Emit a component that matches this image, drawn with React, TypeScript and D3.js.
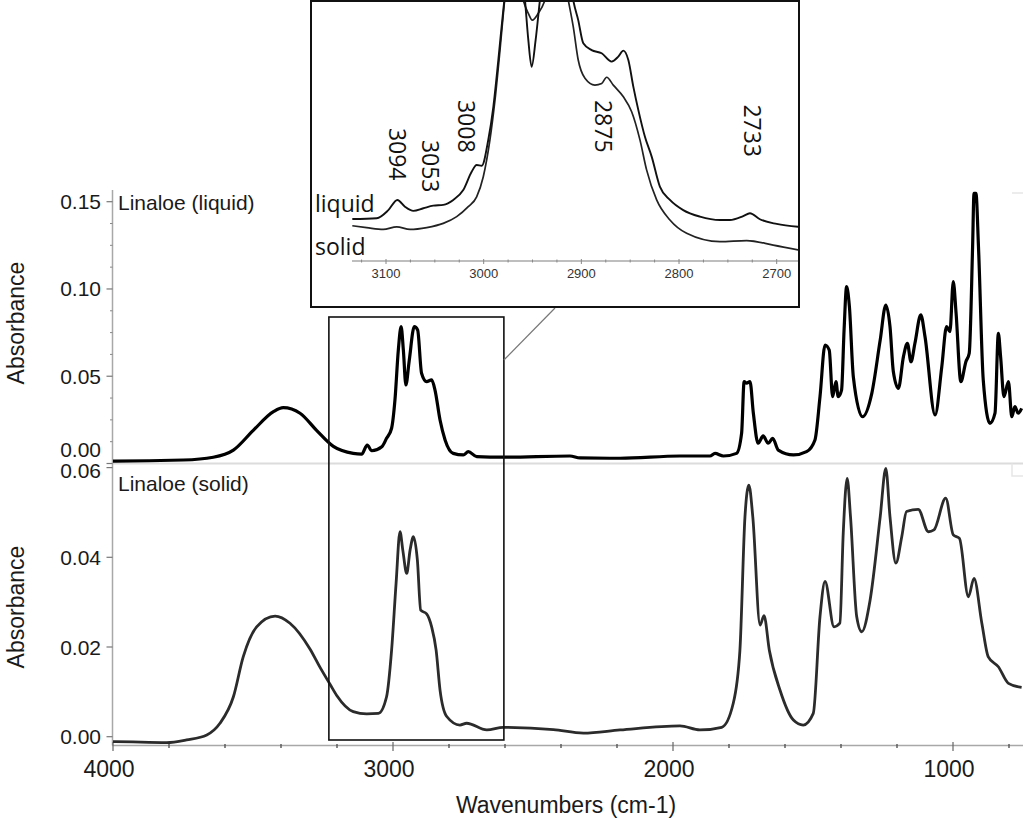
import React from "react";
import * as d3 from "d3";

const W = 1024;
const H = 818;

// ---------- data: main spectra [wavenumber, absorbance] ----------
const liquidSpectrum: [number, number][] = [
  [4000, 0.0014], [3993, 0.0014], [3749, 0.002], [3642, 0.0036], [3570, 0.0077], [3499, 0.019],
  [3427, 0.0297], [3392, 0.032], [3332, 0.0288], [3273, 0.019], [3213, 0.0098], [3142, 0.0058],
  [3112, 0.0054], [3092, 0.0106], [3076, 0.0073], [3040, 0.0096], [3023, 0.0144], [3005, 0.0202],
  [2993, 0.0364], [2981, 0.065], [2971, 0.0784], [2963, 0.065], [2954, 0.045], [2942, 0.059],
  [2924, 0.0784], [2912, 0.0765], [2898, 0.0517], [2880, 0.0469], [2862, 0.0479], [2850, 0.0421],
  [2832, 0.0249], [2814, 0.0135], [2785, 0.0058], [2749, 0.0049], [2731, 0.0068], [2701, 0.0039],
  [2606, 0.0036], [2368, 0.0043], [2332, 0.0032], [2189, 0.003], [1975, 0.0043], [1868, 0.0043],
  [1850, 0.0058], [1820, 0.0043], [1773, 0.0058], [1755, 0.0173], [1746, 0.0469], [1737, 0.046],
  [1725, 0.0469], [1713, 0.0288], [1696, 0.0116], [1678, 0.0158], [1660, 0.0116], [1644, 0.0144],
  [1624, 0.0077], [1570, 0.0049], [1523, 0.0068], [1493, 0.0135], [1475, 0.0383], [1457, 0.0679],
  [1442, 0.065], [1430, 0.0383], [1418, 0.0469], [1410, 0.0383], [1398, 0.0421], [1389, 0.0765],
  [1380, 0.1013], [1370, 0.0899], [1356, 0.0497], [1323, 0.0268], [1290, 0.0402], [1260, 0.0707],
  [1240, 0.0908], [1225, 0.0784], [1213, 0.0526], [1195, 0.0431], [1177, 0.0612], [1163, 0.0689],
  [1150, 0.0583], [1136, 0.0689], [1115, 0.0851], [1100, 0.0727], [1064, 0.0278], [1040, 0.0555],
  [1023, 0.0784], [1011, 0.0755], [999, 0.1042], [989, 0.0861], [972, 0.0469], [954, 0.0583],
  [942, 0.0632], [930, 0.1242], [925, 0.1548], [918, 0.1548], [909, 0.1242], [892, 0.0479],
  [868, 0.023], [850, 0.0288], [838, 0.0745], [830, 0.0612], [818, 0.0383], [802, 0.0469],
  [790, 0.0268], [779, 0.0326], [767, 0.0288], [755, 0.0316],
];

const solidSpectrum: [number, number][] = [
  [4000, -0.0011], [3993, -0.0011], [3808, -0.0013], [3737, -0.0007], [3665, 0.0004], [3618, 0.003],
  [3570, 0.0089], [3535, 0.0178], [3487, 0.0245], [3421, 0.0269], [3368, 0.0253], [3296, 0.0195],
  [3261, 0.0155], [3225, 0.0117], [3201, 0.0092], [3142, 0.0056], [3094, 0.0051], [3052, 0.0052],
  [3023, 0.0089], [3005, 0.0193], [2989, 0.0342], [2975, 0.0457], [2965, 0.0416], [2951, 0.0364],
  [2939, 0.0416], [2927, 0.0446], [2913, 0.0394], [2901, 0.0282], [2880, 0.0274], [2862, 0.0245],
  [2846, 0.0193], [2832, 0.0104], [2808, 0.0045], [2761, 0.0026], [2737, 0.003], [2665, 0.0015],
  [2606, 0.0021], [2427, 0.0016], [2320, 0.0008], [2189, 0.0015], [1975, 0.0024], [1904, 0.0015],
  [1826, 0.0021], [1785, 0.0074], [1761, 0.0193], [1743, 0.049], [1729, 0.0561], [1715, 0.049],
  [1689, 0.0249], [1675, 0.027], [1656, 0.0193], [1618, 0.0104], [1570, 0.0037], [1535, 0.0026],
  [1499, 0.0052], [1475, 0.0268], [1457, 0.0346], [1425, 0.0245], [1404, 0.0253], [1392, 0.0454],
  [1378, 0.0576], [1366, 0.049], [1344, 0.0268], [1326, 0.0234], [1296, 0.0305], [1260, 0.049],
  [1240, 0.0598], [1225, 0.049], [1204, 0.0387], [1183, 0.0446], [1166, 0.0502], [1124, 0.0507],
  [1088, 0.0457], [1068, 0.0461], [1026, 0.0532], [999, 0.045], [977, 0.0442], [945, 0.0312],
  [925, 0.0353], [897, 0.0253], [874, 0.0178], [838, 0.0156], [802, 0.0119], [755, 0.011],
];

// ---------- data: inset (zoomed C-H region, relative absorbance) ----------
const insetLiquid: [number, number][] = [
  [3134.5, 16.1], [3109.5, 16.4], [3097.6, 19.5], [3088.4, 23.4], [3080.6, 20.8], [3072, 19.2],
  [3061.8, 20.2], [3051.6, 21.2], [3041.4, 21.5], [3031.1, 23.4], [3020.9, 27.2], [3012.3, 34.2],
  [3007.2, 36.8], [3002, 36.5], [2995.3, 46.4], [2990.1, 59.1], [2985, 77], [2979.9, 96.2],
  [2966.2, 130], [2957.7, 100], [2954.3, 84.7], [2950.9, 74.4], [2946.8, 84.7], [2942.4, 100],
  [2932.1, 130], [2915.1, 120], [2908.3, 100], [2903.2, 92.3], [2898, 83.4], [2889.5, 80.8],
  [2879.2, 79.6], [2869, 76.4], [2862.2, 78.3], [2857, 80.6], [2851.9, 77], [2846.8, 66.8],
  [2841.7, 57.9], [2834.9, 47.6], [2828, 40], [2819.6, 28.5], [2809.3, 23.4], [2795.7, 19.5],
  [2778.6, 17], [2758.1, 15.7], [2747.9, 15.7], [2734.3, 17.2], [2727.4, 18.3], [2717.2, 16],
  [2700, 14.2], [2677.9, 13.1],
];

const insetSolid: [number, number][] = [
  [3134.5, 13.5], [3119.8, 12.8], [3102.8, 12.1], [3089, 13.1], [3075.4, 12.1], [3058.3, 12.8],
  [3041.4, 14.4], [3027.6, 17], [3015.8, 20.8], [3007.2, 24.6], [3000.4, 32.3], [2993.6, 46.4],
  [2988.4, 61.7], [2983.3, 80.8], [2979.2, 97.4], [2969.7, 125], [2959.5, 100], [2954.3, 94.9],
  [2950.2, 92.3], [2944.1, 94.9], [2937.3, 100], [2925.3, 125], [2913.4, 100], [2908.3, 89.8],
  [2903.2, 77], [2896.3, 70], [2886.1, 67.4], [2879.2, 68], [2874.1, 70.4], [2867.3, 67.4],
  [2857, 62.9], [2848.5, 57.2], [2840, 46.4], [2833.2, 34.9], [2822.9, 23.4], [2809.3, 15.7],
  [2792.2, 10.6], [2758.1, 7.4], [2730.8, 7.8], [2703.6, 6.1], [2677.9, 4.2],
];

const insetPeakLabels = ["3094", "3053", "3008", "2875", "2733"];
const insetPeakPos = [3088, 3054, 3017, 2877, 2724];
const insetPeakTop = [51, 46.4, 61.7, 61.7, 60];

// ---------- ticks ----------
const xMajorTicks = [4000, 3000, 2000, 1000];
const xMinorTicks = [3800, 3600, 3400, 3200, 2800, 2600, 2400, 2200, 1800, 1600, 1400, 1200, 800];
const topYTicks = [0, 0.05, 0.1, 0.15];
const topYMinor = [0.0125, 0.025, 0.0375, 0.0625, 0.075, 0.0875, 0.1125, 0.125, 0.1375];
const botYTicks = [0, 0.02, 0.04, 0.06];
const insetXTicks = [3100, 3000, 2900, 2800, 2700];
const insetXMinor = [3125, 3075, 3050, 3025, 2975, 2950, 2925, 2875, 2850, 2825, 2775, 2750, 2725];
const zoomBox = [3229, 2604];

const FONT = "'Liberation Sans', Arial, sans-serif";
const INSET_FONT = "'Open Sans', 'Noto Sans', sans-serif";
const AXIS = "#a8a8a8";

export default function App() {
  const x = d3.scaleLinear().domain([4000, 750]).range([113, 1023]);
  const yTop = d3.scaleLinear().domain([0, 0.15]).range([463.5, 201.7]);
  const yBot = d3.scaleLinear().domain([0, 0.06]).range([736.7, 467.6]);

  const xi = d3.scaleLinear().domain([3100, 2700]).range([386, 776.7]);
  const yi = d3.scaleLinear().domain([0, 100]).range([261, 0]);

  const lineTop = d3.line<[number, number]>().x(d => x(d[0])).y(d => yTop(d[1])).curve(d3.curveMonotoneX);
  const lineBot = d3.line<[number, number]>().x(d => x(d[0])).y(d => yBot(d[1])).curve(d3.curveMonotoneX);
  const lineIn = d3.line<[number, number]>().x(d => xi(d[0])).y(d => yi(d[1])).curve(d3.curveMonotoneX);

  const axisX = 112.5;
  const boxX1 = x(zoomBox[0]);
  const boxX2 = x(zoomBox[1]);

  // label offsets where the two panels' end labels meet
  const topLabelY = (t: number) => (t === 0 ? yTop(t) - 14 : yTop(t));
  const botLabelY = (t: number) => (t === 0.06 ? yBot(t) + 3 : yBot(t));

  return (
    <svg width={W} height={H} style={{ position: "absolute", left: 0, top: 0, background: "#fff" }}>
      <defs>
        <clipPath id="insetClip">
          <rect x={312} y={2} width={486} height={304} />
        </clipPath>
      </defs>

      {/* panel separators */}
      <line x1={axisX} x2={1023} y1={463.5} y2={463.5} stroke="#dcdcdc" strokeWidth={2} />
      <path d="M1012,463.5 V476 H1023" fill="none" stroke="#e6e6e6" strokeWidth={1.5} />
      <path d="M1012,193 H1023" fill="none" stroke="#e6e6e6" strokeWidth={1.5} />

      {/* y axes */}
      <line x1={axisX} x2={axisX} y1={190} y2={745.5} stroke={AXIS} strokeWidth={1.5} />
      {topYTicks.map(t => (
        <g key={"ty" + t}>
          <line x1={axisX - 6} x2={axisX} y1={yTop(t)} y2={yTop(t)} stroke="#777" strokeWidth={1.2} />
          <text x={101} y={topLabelY(t)} textAnchor="end" dominantBaseline="central"
            fontFamily={FONT} fontSize={21} fill="#1a1a1a">{t.toFixed(2)}</text>
        </g>
      ))}
      {topYMinor.map(t => (
        <line key={"tm" + t} x1={axisX - 2.5} x2={axisX} y1={yTop(t)} y2={yTop(t)} stroke="#888" strokeWidth={1} />
      ))}
      {botYTicks.map(t => (
        <g key={"by" + t}>
          <line x1={axisX - 6} x2={axisX} y1={yBot(t)} y2={yBot(t)} stroke="#777" strokeWidth={1.2} />
          <text x={101} y={botLabelY(t)} textAnchor="end" dominantBaseline="central"
            fontFamily={FONT} fontSize={21} fill="#1a1a1a">{t.toFixed(2)}</text>
        </g>
      ))}
      <text transform={`translate(16,323) rotate(-90)`} textAnchor="middle" dominantBaseline="central"
        fontFamily={FONT} fontSize={23} fill="#1a1a1a">Absorbance</text>
      <text transform={`translate(16,607) rotate(-90)`} textAnchor="middle" dominantBaseline="central"
        fontFamily={FONT} fontSize={23} fill="#1a1a1a">Absorbance</text>

      {/* x axis */}
      <line x1={axisX} x2={1023} y1={745.5} y2={745.5} stroke={AXIS} strokeWidth={1.5} />
      {xMajorTicks.map(t => (
        <g key={"xt" + t}>
          <line x1={x(t)} x2={x(t)} y1={742} y2={751} stroke="#666" strokeWidth={1.2} />
          <text x={x(t) - 4} y={769} textAnchor="middle" dominantBaseline="central"
            fontFamily={FONT} fontSize={23} fill="#1a1a1a">{t}</text>
        </g>
      ))}
      {xMinorTicks.map(t => (
        <line key={"xm" + t} x1={x(t)} x2={x(t)} y1={744} y2={748} stroke="#555" strokeWidth={1.4} />
      ))}
      <text x={566} y={805} textAnchor="middle" dominantBaseline="central"
        fontFamily={FONT} fontSize={23} fill="#1a1a1a">Wavenumbers (cm-1)</text>

      {/* panel titles */}
      <text x={118} y={202} dominantBaseline="central" fontFamily={FONT} fontSize={21} fill="#1a1a1a">Linaloe (liquid)</text>
      <text x={118} y={483} dominantBaseline="central" fontFamily={FONT} fontSize={21} fill="#1a1a1a">Linaloe (solid)</text>

      {/* spectra */}
      <path d={lineTop(liquidSpectrum) || ""} fill="none" stroke="#000" strokeWidth={3.2} strokeLinejoin="round" />
      <path d={lineBot(solidSpectrum) || ""} fill="none" stroke="#2b2b2b" strokeWidth={2.8} strokeLinejoin="round" />

      {/* zoom box and connector */}
      <rect x={boxX1} y={317} width={boxX2 - boxX1} height={423} fill="none" stroke="#111" strokeWidth={1.6} />
      <line x1={boxX2} y1={360} x2={555} y2={308} stroke="#777" strokeWidth={1.2} />

      {/* inset */}
      <rect x={311} y={1} width={488} height={306} fill="#fff" stroke="#111" strokeWidth={2} />
      <line x1={352} x2={798} y1={261} y2={261} stroke={AXIS} strokeWidth={1.5} />
      {insetXMinor.map(t => (
        <line key={"im" + t} x1={xi(t)} x2={xi(t)} y1={259.5} y2={262.5} stroke="#888" strokeWidth={1} />
      ))}
      {insetXTicks.map(t => (
        <g key={"it" + t}>
          <line x1={xi(t)} x2={xi(t)} y1={259} y2={264} stroke="#888" strokeWidth={1} />
          <text x={xi(t)} y={273.5} textAnchor="middle" dominantBaseline="central"
            fontFamily={FONT} fontSize={13} fill="#333">{t}</text>
        </g>
      ))}
      <g clipPath="url(#insetClip)">
        <path d={lineIn(insetSolid) || ""} fill="none" stroke="#222" strokeWidth={1.7} />
        <path d={lineIn(insetLiquid) || ""} fill="none" stroke="#111" strokeWidth={1.9} />
      </g>
      <text x={315} y={203} dominantBaseline="central" fontFamily={INSET_FONT} fontSize={23} fill="#111">liquid</text>
      <text x={315} y={246} dominantBaseline="central" fontFamily={INSET_FONT} fontSize={23} fill="#111">solid</text>
      {insetPeakLabels.map((lab, i) => (
        <text key={lab} transform={`translate(${xi(insetPeakPos[i])},${yi(insetPeakTop[i])}) rotate(90)`}
          dominantBaseline="central" fontFamily={INSET_FONT} fontSize={23} fill="#111">{lab}</text>
      ))}
    </svg>
  );
}
